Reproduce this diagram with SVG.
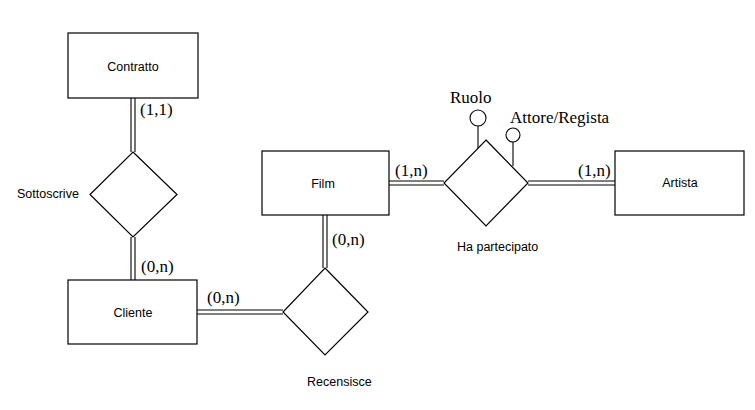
<svg xmlns="http://www.w3.org/2000/svg" width="755" height="410" viewBox="0 0 755 410">
<style>
.ent{fill:#fff;stroke:#000;stroke-width:1.2}
.rel{fill:#fff;stroke:#000;stroke-width:1.2}
.dbl{stroke:#000;stroke-width:1.1;fill:none}
.att{fill:#fff;stroke:#000;stroke-width:1.1}
.sans{font-family:"Liberation Sans",Arial,sans-serif;font-size:12.5px;fill:#000}
.ser{font-family:"Liberation Serif","Times New Roman",serif;font-size:17px;fill:#000}
</style>
<rect width="755" height="410" fill="#fff"/>
<g id="connectors">
<path class="dbl" d="M131,98V152M135,98V152"/>
<path class="dbl" d="M131,237V280M135,237V280"/>
<path class="dbl" d="M197,310H283M197,314H283"/>
<path class="dbl" d="M323,215V268M327,215V268"/>
<path class="dbl" d="M389,181H444M389,185H444"/>
<path class="dbl" d="M528,181H615M528,185H615"/>
<path class="dbl" d="M478,126V149M513,142V166"/>
</g>
<g id="contratto"><rect class="ent" x="68" y="33" width="130" height="65"/><text class="sans" x="133" y="71" text-anchor="middle">Contratto</text></g>
<g id="sottoscrive"><polygon class="rel" points="133,152 177,194.5 133,237 90,194.5"/><text class="sans" x="17" y="198">Sottoscrive</text></g>
<g id="cliente"><rect class="ent" x="68" y="280" width="129" height="64"/><text class="sans" x="133" y="317" text-anchor="middle">Cliente</text></g>
<g id="recensisce"><polygon class="rel" points="325,268 368,312 325,355 283,312"/><text class="sans" x="307" y="386">Recensisce</text></g>
<g id="film"><rect class="ent" x="262" y="151" width="127" height="64"/><text class="sans" x="323" y="188" text-anchor="middle">Film</text></g>
<g id="hapartecipato"><polygon class="rel" points="486,140 528,183 486,226 444,183"/><text class="sans" x="457" y="251">Ha partecipato</text></g>
<g id="artista"><rect class="ent" x="615" y="151" width="129" height="64"/><text class="sans" x="680" y="187" text-anchor="middle">Artista</text></g>
<g id="ruolo"><circle class="att" cx="478" cy="118" r="8"/><text class="ser" x="450" y="103">Ruolo</text></g>
<g id="attore"><circle class="att" cx="513" cy="135" r="7"/><text class="ser" x="510" y="123">Attore/Regista</text></g>
<g id="cardinalities">
<text class="ser" x="140" y="115">(1,1)</text>
<text class="ser" x="141" y="272">(0,n)</text>
<text class="ser" x="207" y="303">(0,n)</text>
<text class="ser" x="332" y="245">(0,n)</text>
<text class="ser" x="395" y="176">(1,n)</text>
<text class="ser" x="578" y="176">(1,n)</text>
</g>
</svg>
